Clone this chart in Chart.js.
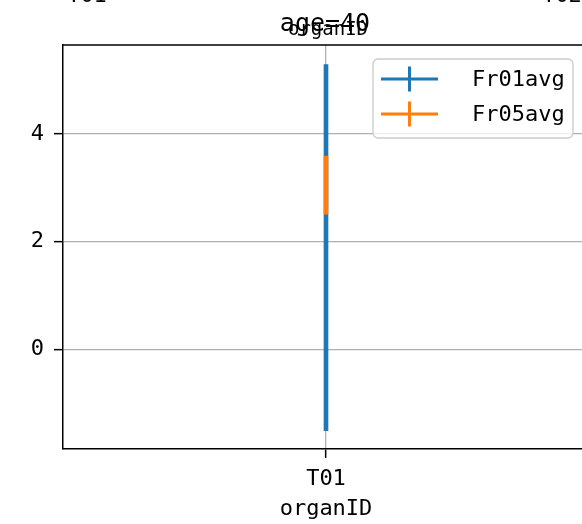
<!DOCTYPE html>
<html>
<head>
<meta charset="utf-8">
<script src="https://cdn.jsdelivr.net/npm/chart.js@4/dist/chart.umd.min.js"></script>
<style>
    html, body { margin: 0; padding: 0; background: #fff; }
    #wrap { width: 582px; height: 524px; overflow: hidden; }
</style>
</head>
<body>
<div id="wrap"><canvas id="chart" width="600" height="524"></canvas></div>
<script>
'use strict';

// DATA
var categories = ['T01'];
var seriesNames = ['Fr01avg', 'Fr05avg'];
var fr01Mean = [1.89];
var fr01Err = [3.40];
var fr05Mean = [3.05];
var fr05Err = [0.54];
var yTicks = [0, 2, 4];
var yMin = -1.853;
var yMax = 5.656;

var colors = ['#1f77b4', '#ff7f0e'];
var MONO = '"DejaVu Sans Mono", monospace';

var toRanges = function(means, errs) {
    return means.map(function(m, i) {
        return [m - errs[i], m + errs[i]];
    });
};

// titles, top spine, cut-off labels from the panel above, legend
var decorPlugin = {
    id: 'decor',
    afterDraw: function(chart) {
        var ctx = chart.ctx;
        var area = chart.chartArea;
        ctx.save();

        // top spine
        ctx.strokeStyle = '#000';
        ctx.lineWidth = 1.5;
        ctx.beginPath();
        ctx.moveTo(area.left - 0.75, area.top);
        ctx.lineTo(area.right, area.top);
        ctx.stroke();

        ctx.fillStyle = '#000';
        ctx.textAlign = 'center';
        ctx.textBaseline = 'alphabetic';

        // pieces of the panel above
        ctx.font = '22px ' + MONO;
        ctx.fillText('T01', 87, 2);
        ctx.fillText('T02', 562, 2);

        ctx.font = '19px ' + MONO;
        ctx.fillText('organID', 328, 35);
        ctx.font = '25px ' + MONO;
        ctx.fillText('age=40', 325, 31);

        // legend
        var bx = 373, by = 59, bw = 200, bh = 79;
        ctx.fillStyle = 'rgba(255,255,255,0.8)';
        ctx.strokeStyle = '#cccccc';
        ctx.lineWidth = 1.3;
        ctx.beginPath();
        ctx.roundRect(bx, by, bw, bh, 5);
        ctx.fill();
        ctx.stroke();

        var rows = [79, 114];
        ctx.font = '22px ' + MONO;
        ctx.textAlign = 'left';
        ctx.textBaseline = 'middle';
        for (var i = 0; i < seriesNames.length; i++) {
            var y = rows[i];
            ctx.strokeStyle = colors[i];
            ctx.lineWidth = 3;
            ctx.beginPath();
            ctx.moveTo(381, y);
            ctx.lineTo(438, y);
            ctx.moveTo(409.5, y - 12.5);
            ctx.lineTo(409.5, y + 12.5);
            ctx.stroke();
            ctx.fillStyle = '#000';
            ctx.fillText(seriesNames[i], 472, y + 1);
        }
        ctx.restore();
    }
};

var config = {
    type: 'bar',
    data: {
        labels: categories,
        datasets: [{
            label: seriesNames[0],
            data: toRanges(fr01Mean, fr01Err),
            backgroundColor: colors[0],
            borderWidth: 0,
            barThickness: 4,
            grouped: false,
            order: 1
        }, {
            label: seriesNames[1],
            data: toRanges(fr05Mean, fr05Err),
            backgroundColor: colors[1],
            borderWidth: 0,
            barThickness: 4,
            grouped: false,
            order: 0
        }]
    },
    options: {
        responsive: false,
        animation: false,
        layout: { padding: { left: 0, top: 45, right: 11, bottom: 0 } },
        plugins: {
            legend: { display: false },
            tooltip: { enabled: false }
        },
        scales: {
            x: {
                offset: true,
                grid: {
                    offset: false,
                    color: '#b0b0b0',
                    lineWidth: 1.3,
                    tickColor: '#000',
                    tickLength: 9,
                    tickWidth: 1.5
                },
                border: { color: '#000', width: 1.5 },
                ticks: {
                    color: '#000',
                    padding: 8,
                    font: { family: MONO, size: 22 }
                },
                title: {
                    display: true,
                    text: 'organID',
                    color: '#000',
                    font: { family: MONO, size: 22 },
                    padding: { top: 0, bottom: 2 }
                },
                afterFit: function(scale) {
                    scale.height = 75;
                }
            },
            y: {
                min: yMin,
                max: yMax,
                afterBuildTicks: function(scale) {
                    scale.ticks = yTicks.map(function(v) {
                        return { value: v };
                    });
                },
                grid: {
                    color: '#b0b0b0',
                    lineWidth: 1.3,
                    tickColor: '#000',
                    tickLength: 9,
                    tickWidth: 1.5
                },
                border: { color: '#000', width: 1.5 },
                ticks: {
                    color: '#000',
                    padding: 10,
                    font: { family: MONO, size: 22 }
                },
                afterFit: function(scale) {
                    scale.width = 63;
                }
            }
        }
    },
    plugins: [decorPlugin]
};

new Chart(document.getElementById('chart'), config);
</script>
</body>
</html>
